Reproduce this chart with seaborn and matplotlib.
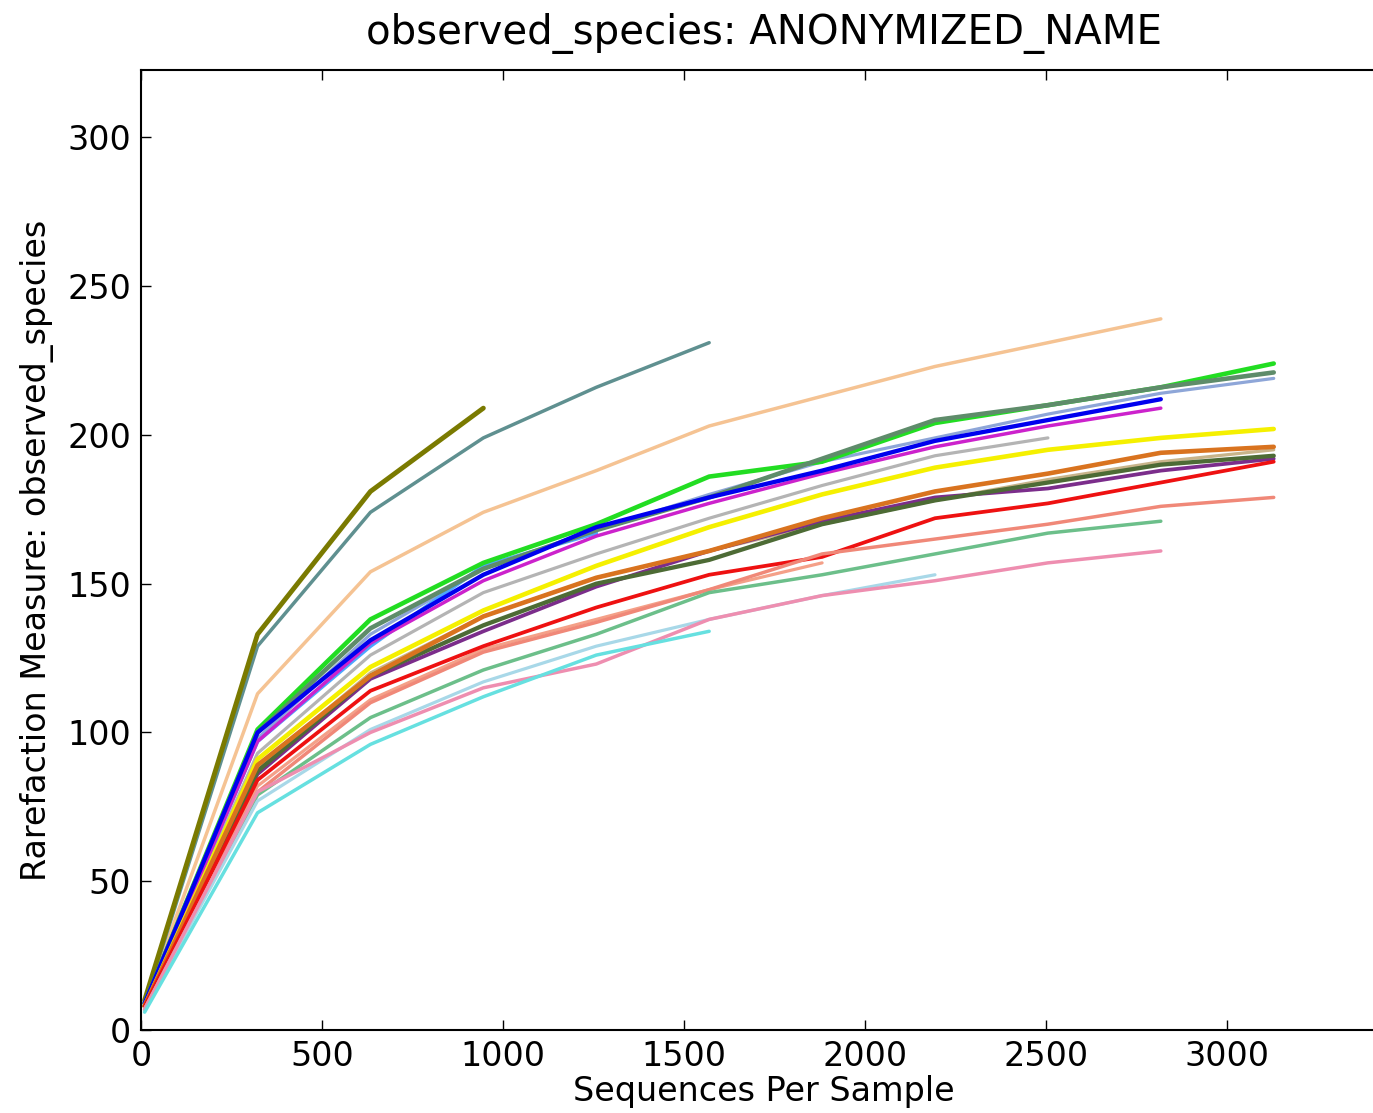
import matplotlib
matplotlib.use("Agg")
import matplotlib.pyplot as plt
import seaborn as sns
import pandas as pd

# Rarefaction depths (sequences per sample)
depths = [10, 322, 634, 946, 1258, 1570, 1882, 2194, 2506, 2818, 3130]

# Mean observed species per sample at each depth (samples stop at their own max depth)
peach = [9, 113, 154, 174, 188, 203, 213, 223, 231, 239]
cadet = [9, 129, 174, 199, 216, 231]
olive = [10, 133, 181, 209]
silver = [8, 93, 126, 147, 160, 172, 183, 193, 199]
steel = [8, 98, 133, 155, 168, 180, 191, 199, 207, 214, 219]
green = [9, 101, 138, 157, 170, 186, 191, 204, 210, 216, 224]
graygreen = [9, 100, 135, 155, 168, 179, 192, 205, 210, 216, 221]
skyblue = [8, 97, 129, 156, 167]
magenta = [8, 97, 130, 151, 166, 177, 187, 196, 203, 209]
blue = [9, 100, 131, 153, 169, 179, 188, 198, 205, 212]
tan = [8, 88, 120, 139, 152, 161, 170, 178, 185, 191, 195]
yellow = [8, 91, 122, 141, 156, 169, 180, 189, 195, 199, 202]
purple = [8, 86, 118, 134, 149, 161, 171, 179, 182, 188, 192]
darkolive = [8, 87, 119, 136, 150, 158, 170, 178, 184, 190, 193]
orange = [8, 89, 119, 139, 152, 161, 172, 181, 187, 194, 196]
tomato = [7, 82, 111, 128, 138, 148, 157]
red = [8, 84, 114, 129, 142, 153, 159, 172, 177, 184, 191]
salmon = [7, 80, 110, 127, 137, 148, 160, 165, 170, 176, 179]
seagreen = [7, 79, 105, 121, 133, 147, 153, 160, 167, 171]
paleblue = [7, 77, 101, 117, 129, 138, 146, 153]
pink = [7, 80, 100, 115, 123, 138, 146, 151, 157, 161]
cyan = [6, 73, 96, 112, 126, 134]

series = [
    ("peach", peach, "#f5c393", 2.5),
    ("cadet", cadet, "#5f9090", 2.5),
    ("olive", olive, "#7a7a00", 3.5),
    ("silver", silver, "#b4b4b4", 2.3),
    ("steel", steel, "#8ea6d8", 2.3),
    ("skyblue", skyblue, "#4da6ff", 2.7),
    ("green", green, "#22dd22", 3.3),
    ("graygreen", graygreen, "#5e8c6a", 3.3),
    ("magenta", magenta, "#cc22cc", 2.5),
    ("blue", blue, "#0000ee", 3.1),
    ("tan", tan, "#c8b48a", 2.3),
    ("yellow", yellow, "#f5f000", 3.3),
    ("purple", purple, "#7b2d8b", 2.7),
    ("darkolive", darkolive, "#4d6b35", 3.1),
    ("orange", orange, "#d9731f", 3.3),
    ("tomato", tomato, "#f4a088", 2.3),
    ("red", red, "#ee1111", 2.7),
    ("salmon", salmon, "#f08878", 2.5),
    ("seagreen", seagreen, "#6cbf8a", 2.5),
    ("paleblue", paleblue, "#a8d8e8", 2.3),
    ("pink", pink, "#ee8eb0", 2.5),
    ("cyan", cyan, "#66e0e0", 2.5),
]

sns.set_style("white")
plt.rcParams["font.family"] = ["DejaVu Sans"]
plt.rcParams["text.color"] = "black"
plt.rcParams["axes.labelcolor"] = "black"

W, H = 1373, 1113
fig = plt.figure(figsize=(W / 100, H / 100), dpi=100)
left, right, top, bottom = 141, 1387, 70, 1030
ax = fig.add_axes([left / W, 1 - bottom / H, (right - left) / W, (bottom - top) / H])

for name, vals, color, lw in series:
    df = pd.DataFrame({"depth": depths[:len(vals)], "value": vals})
    sns.lineplot(data=df, x="depth", y="value", color=color, linewidth=lw, ax=ax)

ax.set_xlim(0, 3130 * 1.1)
ax.set_ylim(0, 239 * 1.35)
ax.set_xticks([0, 500, 1000, 1500, 2000, 2500, 3000])
ax.set_yticks([0, 50, 100, 150, 200, 250, 300])

ax.tick_params(direction="in", length=7, width=1, top=True, right=True,
               bottom=True, left=True, labelsize=24, pad=7, colors="black")
for sp in ax.spines.values():
    sp.set_visible(True)
    sp.set_color("black")
    sp.set_linewidth(1.5)

ax.set_xlabel("Sequences Per Sample", fontsize=24, labelpad=2)
ax.set_ylabel("Rarefaction Measure: observed_species", fontsize=24, labelpad=10)
ax.set_title("observed_species: ANONYMIZED_NAME", fontsize=29, pad=19)

fig.savefig("out.png", dpi=100, facecolor="white")
